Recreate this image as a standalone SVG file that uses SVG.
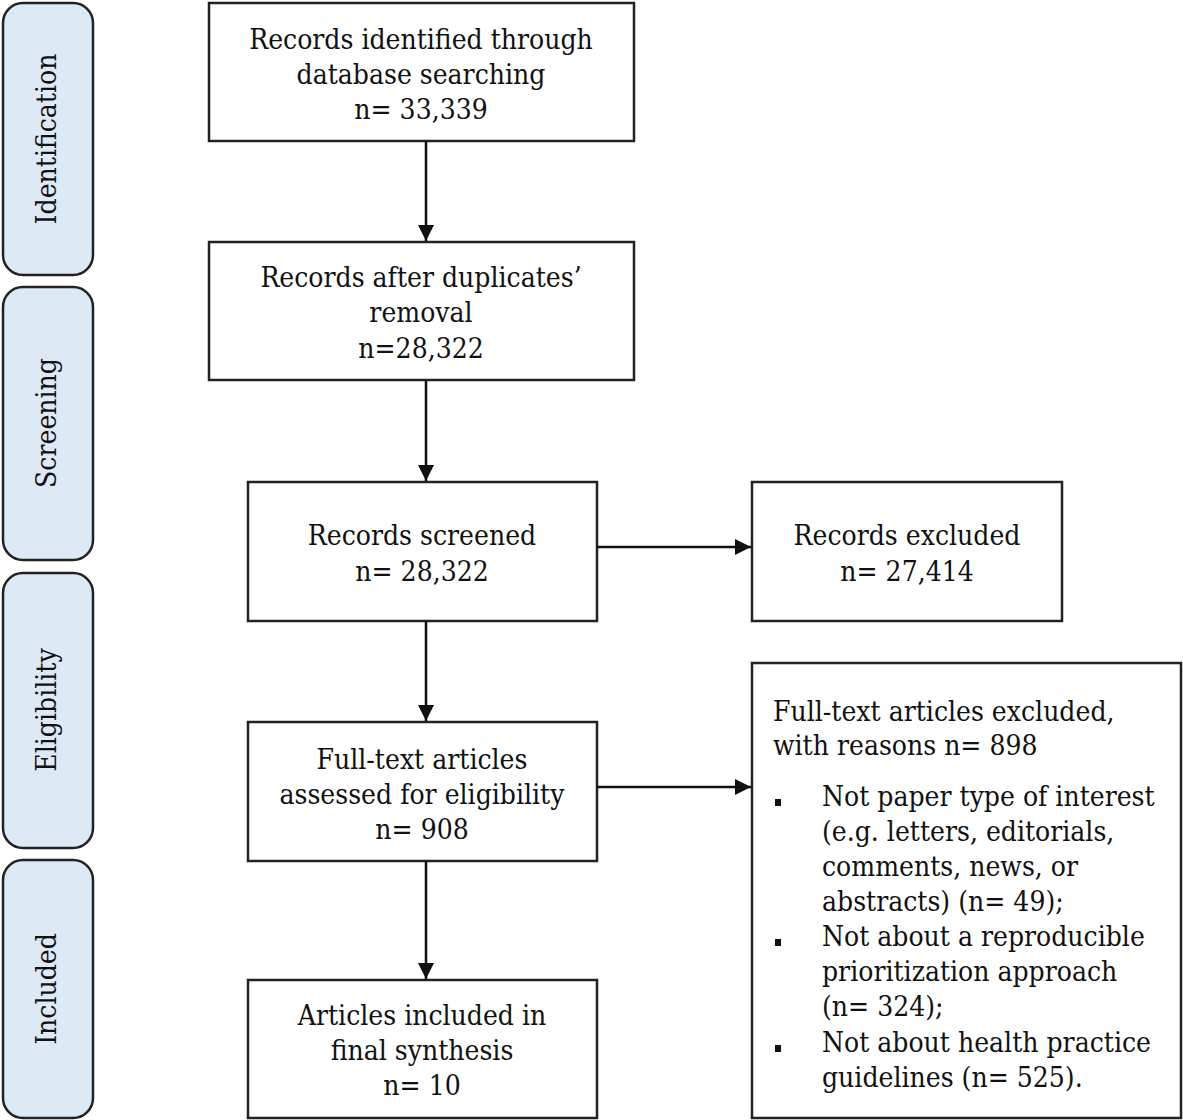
<svg xmlns="http://www.w3.org/2000/svg" width="1183" height="1120" viewBox="0 0 1183 1120">
<defs>
<style>
.box{fill:#fff;stroke:#222;stroke-width:2.5}
.side{fill:#dde9f5;stroke:#222;stroke-width:2.5}
text{font-family:"DejaVu Serif Condensed","DejaVu Serif","Liberation Serif",serif;font-size:28px;fill:#111}
.c{text-anchor:middle}
.conn{stroke:#111;stroke-width:2.5;fill:none;marker-end:url(#ah)}
</style>
<marker id="ah" viewBox="0 0 10 10" refX="10" refY="5" markerWidth="6.5" markerHeight="6.5" markerUnits="strokeWidth" orient="auto">
<path d="M0,0 L10,5 L0,10 z" fill="#111"/>
</marker>
</defs>
<rect width="1183" height="1120" fill="#fff"/>
<g id="phase-identification"><rect class="side" x="3" y="3" width="90" height="272" rx="20"/><text class="c" transform="translate(56,139) rotate(-90)">Identification</text></g>
<g id="phase-screening"><rect class="side" x="3" y="287" width="90" height="273" rx="20"/><text class="c" transform="translate(56,423) rotate(-90)">Screening</text></g>
<g id="phase-eligibility"><rect class="side" x="3" y="573" width="90" height="275" rx="20"/><text class="c" transform="translate(56,710) rotate(-90)">Eligibility</text></g>
<g id="phase-included"><rect class="side" x="3" y="860" width="90" height="258" rx="20"/><text class="c" transform="translate(56,989) rotate(-90)">Included</text></g>

<g id="n1"><rect class="box" x="209" y="3" width="425" height="138"/>
<text class="c" x="421" y="49">Records identified through</text>
<text class="c" x="421" y="84">database searching</text>
<text class="c" x="421" y="119">n= 33,339</text></g>
<g id="n2"><rect class="box" x="209" y="242" width="425" height="138"/>
<text class="c" x="421" y="287">Records after duplicates’</text>
<text class="c" x="421" y="322">removal</text>
<text class="c" x="421" y="358">n=28,322</text></g>
<g id="n3"><rect class="box" x="248" y="482" width="349" height="139"/>
<text class="c" x="422" y="545">Records screened</text>
<text class="c" x="422" y="581">n= 28,322</text></g>
<g id="n4"><rect class="box" x="752" y="482" width="310" height="139"/>
<text class="c" x="907" y="545">Records excluded</text>
<text class="c" x="907" y="581">n= 27,414</text></g>
<g id="n5"><rect class="box" x="248" y="722" width="349" height="139"/>
<text class="c" x="422" y="769">Full-text articles</text>
<text class="c" x="422" y="804">assessed for eligibility</text>
<text class="c" x="422" y="839">n= 908</text></g>
<g id="n6"><rect class="box" x="752" y="663" width="429" height="455"/>
<text x="773" y="721">Full-text articles excluded,</text>
<text x="773" y="755">with reasons n= 898</text>
<rect x="775" y="799" width="6" height="7" fill="#111"/>
<rect x="775" y="939" width="6" height="7" fill="#111"/>
<rect x="775" y="1045" width="6" height="7" fill="#111"/>
<text x="822" y="806">Not paper type of interest</text>
<text x="822" y="841">(e.g. letters, editorials,</text>
<text x="822" y="876">comments, news, or</text>
<text x="822" y="911">abstracts) (n= 49);</text>
<text x="822" y="946">Not about a reproducible</text>
<text x="822" y="981">prioritization approach</text>
<text x="822" y="1016">(n= 324);</text>
<text x="822" y="1052">Not about health practice</text>
<text x="822" y="1087">guidelines (n= 525).</text></g>
<g id="n7"><rect class="box" x="248" y="980" width="349" height="138"/>
<text class="c" x="422" y="1025">Articles included in</text>
<text class="c" x="422" y="1060">final synthesis</text>
<text class="c" x="422" y="1095">n= 10</text></g>

<g id="connectors">
<line class="conn" x1="426" y1="141" x2="426" y2="241"/>
<line class="conn" x1="426" y1="380" x2="426" y2="481"/>
<line class="conn" x1="597" y1="547" x2="751" y2="547"/>
<line class="conn" x1="426" y1="621" x2="426" y2="721"/>
<line class="conn" x1="597" y1="787" x2="751" y2="787"/>
<line class="conn" x1="426" y1="861" x2="426" y2="979"/>
</g>
</svg>
